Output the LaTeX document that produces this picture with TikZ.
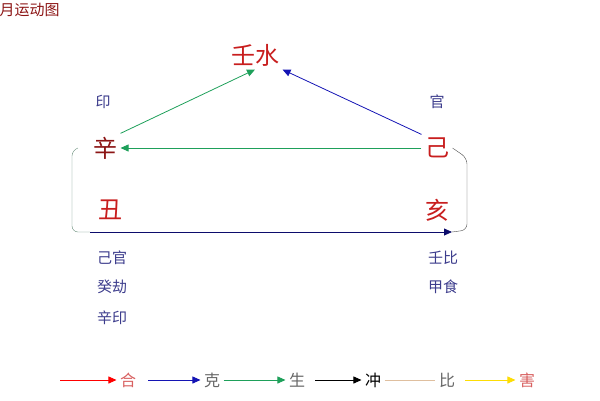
\documentclass[tikz,border=0pt]{standalone}
\usepackage{fontspec}
\setmainfont{Noto Sans CJK SC}
\usetikzlibrary{arrows.meta,positioning}
\definecolor{zired}{RGB}{200,30,30}
\definecolor{zigreen}{RGB}{30,160,90}
\definecolor{ziblue}{RGB}{20,20,180}
\definecolor{zitext}{RGB}{60,60,140}
\begin{document}
\begin{tikzpicture}[x=1pt,y=-1pt,
    zhi/.style={font=\fontsize{24}{24}\selectfont, text=zired},
    shen/.style={font=\fontsize{15}{15}\selectfont, text=zitext},
    leg/.style={font=\fontsize{16}{16}\selectfont, text=gray!80!black},
    arr/.style={-{Triangle[length=8pt,width=7pt]}, thick}
]
    \useasboundingbox (0,0) rectangle (600,400);
    \node[font=\fontsize{15}{15}\selectfont,text=zired!70!black,anchor=west] (title) at (-4,10) {月运动图};

    % stems and branches
    \node[zhi] (ren) at (255,55) {壬水};
    \node[zhi,text=zired!70!black] (xin) at (105,148) {辛};
    \node[zhi] (ji) at (437,148) {己};
    \node[zhi] (chou) at (110,210) {丑};
    \node[zhi] (hai) at (437,210) {亥};

    % ten gods
    \node[shen] (yin) at (103,102) {印};
    \node[shen] (guan) at (437,102) {官};
    \node[shen] (c1) at (112,258) {己官};
    \node[shen] (c2) at (112,287) {癸劫};
    \node[shen] (c3) at (112,318) {辛印};
    \node[shen] (h1) at (443,258) {壬比};
    \node[shen] (h2) at (443,287) {甲食};

    % relations
    \draw[arr,zigreen] (ji.west) -- (xin.east);
    \draw[arr,zigreen] (xin.north east) -- (ren.south);
    \draw[arr,ziblue] (ji.north west) -- (ren.south east);

    % loop
    \coordinate (lt) at (78,148);
    \coordinate (end) at (452,232);
    \draw[gray!70!zigreen,rounded corners=6pt] (lt) -- (72,150) -- (72,232) -- (90,232);
    \draw[arr,ziblue!60!black] (90,232) -- (end);
    \draw[gray!60!black,rounded corners=6pt] (ji.east) -- (467,158) -- (467,230) -- (end);

    % legend
    \node[leg,text=zired!70] (hel) at (128,380) {合};
    \node[leg] (ke) at (212,380) {克};
    \node[leg] (sheng) at (297,380) {生};
    \node[leg,text=black] (chong) at (373,380) {冲};
    \node[leg] (bi) at (447,380) {比};
    \node[leg,text=zired!70] (hai2) at (527,380) {害};
    \coordinate (l1) at (60,380);
    \coordinate (l2) at (148,380);
    \coordinate (l4) at (315,380);
    \coordinate (l6) at (465,380);
    \draw[arr,red] (l1) -- (hel.west);
    \draw[arr,ziblue] (l2) -- (ke.west);
    \draw[arr,zigreen] (ke.east) -- (sheng.west);
    \draw[arr,black] (l4) -- (chong.west);
    \draw[thick,brown!50] (chong.east) -- (bi.west);
    \draw[arr,yellow!80!orange] (l6) -- (hai2.west);
\end{tikzpicture}
\end{document}
